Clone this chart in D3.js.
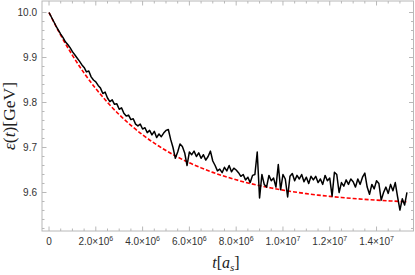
<!DOCTYPE html>
<html><head><meta charset="utf-8">
<script src="https://cdn.jsdelivr.net/npm/d3@7"></script>
<style>body{margin:0;background:#fff}svg{display:block}</style>
</head><body>
<script>
// time step of samples (in units of 1e6 a_s)
const tStep = 0.1;
// black (simulated) energy values, t = 0, 0.1, ..., 15.3 (x1e6)
const energySim = [
10.000,9.990,9.980,9.970,9.961,9.952,9.944,9.935,9.929,9.922,
9.913,9.906,9.899,9.892,9.884,9.878,9.868,9.870,9.857,9.850,
9.846,9.838,9.832,9.820,9.823,9.810,9.802,9.806,9.796,9.797,
9.785,9.788,9.776,9.770,9.772,9.762,9.764,9.752,9.748,9.752,
9.741,9.744,9.733,9.738,9.728,9.736,9.722,9.730,9.724,9.732,
9.738,9.740,9.718,9.700,9.676,9.690,9.708,9.702,9.688,9.660,
9.690,9.684,9.692,9.680,9.688,9.676,9.684,9.672,9.680,9.692,
9.670,9.660,9.648,9.652,9.644,9.656,9.648,9.660,9.646,9.654,
9.650,9.644,9.636,9.640,9.628,9.634,9.622,9.638,9.640,9.690,
9.588,9.640,9.618,9.612,9.638,9.626,9.632,9.612,9.662,9.606,
9.640,9.630,9.590,9.636,9.642,9.626,9.638,9.630,9.640,9.624,
9.634,9.620,9.636,9.628,9.636,9.622,9.630,9.618,9.638,9.626,
9.632,9.592,9.645,9.640,9.600,9.622,9.614,9.628,9.618,9.630,
9.624,9.612,9.630,9.618,9.634,9.643,9.612,9.596,9.618,9.608,
9.626,9.620,9.583,9.600,9.612,9.598,9.618,9.604,9.622,9.590,
9.561,9.586,9.572,9.600
];
// red dashed (fit) curve
const fitT = [0,0.5,1,1.5,2,2.5,3,3.5,4,4.5,5,5.5,6,6.5,7,7.5,8,8.5,9,9.5,10,10.5,11,11.5,12,12.5,13,13.5,14,14.5,15,15.3];
const fitE = [10.000,9.9495,9.9049,9.8655,9.8308,9.8002,9.7731,9.7493,9.7282,9.7096,9.6932,9.6787,9.6659,9.6547,9.6447,9.6360,9.6282,9.6213,9.6153,9.6100,9.6053,9.6011,9.5975,9.5942,9.5914,9.5889,9.5867,9.5847,9.5830,9.5815,9.5801,9.5794];
// ticks
const xMajor = [0,2e6,4e6,6e6,8e6,1e7,1.2e7,1.4e7];
const xMajorLabels = [["0",""],["2.0×10","6"],["4.0×10","6"],["6.0×10","6"],["8.0×10","6"],["1.0×10","7"],["1.2×10","7"],["1.4×10","7"]];
const yMajor = [9.6,9.7,9.8,9.9,10.0];
const yMajorLabels = ["9.6","9.7","9.8","9.9","10.0"];

const W = 415, H = 275;
const L = 42, R = 413.5, T = 1, B = 231;
const svg = d3.select("body").append("svg").attr("width", W).attr("height", H);

const x = d3.scaleLinear().domain([-0.3e6, 15.58e6]).range([L, R]);
const y = d3.scaleLinear().domain([9.5144, 10.0256]).range([B, T]);

const frameCol = "#b8b8b8";
svg.append("rect").attr("x", L).attr("y", T).attr("width", R - L).attr("height", B - T)
  .attr("fill", "none").attr("stroke", frameCol).attr("stroke-width", 1);

const xMinor = d3.range(0, 15.5e6, 5e5).filter(v => !xMajor.includes(v));
const yMinor = d3.range(9.52, 10.02, 0.02).map(v => +v.toFixed(2)).filter(v => !yMajor.some(m => Math.abs(m - v) < 1e-6));
const tk = svg.append("g").attr("stroke", frameCol).attr("stroke-width", 1);
function xt(v, len) {
  tk.append("line").attr("x1", x(v)).attr("x2", x(v)).attr("y1", B).attr("y2", B - len);
  tk.append("line").attr("x1", x(v)).attr("x2", x(v)).attr("y1", T).attr("y2", T + len);
}
function yt(v, len) {
  tk.append("line").attr("y1", y(v)).attr("y2", y(v)).attr("x1", L).attr("x2", L + len);
  tk.append("line").attr("y1", y(v)).attr("y2", y(v)).attr("x1", R).attr("x2", R - len);
}
xMajor.forEach(v => xt(v, 4.5));
xMinor.forEach(v => xt(v, 2.5));
yMajor.forEach(v => yt(v, 4.5));
yMinor.forEach(v => yt(v, 2.5));

const lblFont = "Liberation Sans, Arial, sans-serif";
xMajor.forEach((v, i) => {
  const t = svg.append("text").attr("x", x(v)).attr("y", B + 14).attr("text-anchor", "middle")
    .attr("font-family", lblFont).attr("font-size", 10).attr("fill", "#333");
  t.append("tspan").text(xMajorLabels[i][0]);
  if (xMajorLabels[i][1]) t.append("tspan").attr("dy", -4).attr("font-size", 7).text(xMajorLabels[i][1]);
});
yMajor.forEach((v, i) => {
  svg.append("text").attr("x", L - 5).attr("y", y(v) + 3.5).attr("text-anchor", "end")
    .attr("font-family", lblFont).attr("font-size", 10).attr("fill", "#333").text(yMajorLabels[i]);
});

const fitData = fitT.map((t, i) => [t * 1e6, fitE[i]]);
const simData = energySim.map((e, i) => [i * tStep * 1e6, e]);
svg.append("path").datum(fitData).attr("d", d3.line().x(d => x(d[0])).y(d => y(d[1])).curve(d3.curveMonotoneX))
  .attr("fill", "none").attr("stroke", "#f00").attr("stroke-width", 1.6).attr("stroke-dasharray", "4,2");
svg.append("path").datum(simData).attr("d", d3.line().x(d => x(d[0])).y(d => y(d[1])))
  .attr("fill", "none").attr("stroke", "#000").attr("stroke-width", 1.5).attr("stroke-linejoin", "round");

const serif = "Liberation Serif, Times New Roman, serif";
const xt2 = svg.append("text").attr("x", 226).attr("y", 268).attr("text-anchor", "middle")
  .attr("font-family", serif).attr("font-size", 16).attr("fill", "#222");
xt2.append("tspan").attr("font-style", "italic").text("t");
xt2.append("tspan").text("[");
xt2.append("tspan").attr("font-style", "italic").text("a");
xt2.append("tspan").attr("font-style", "italic").attr("font-size", 11).attr("dy", 3).text("s");
xt2.append("tspan").attr("dy", -3).text("]");

const yt2 = svg.append("text").attr("transform", `translate(15,${(T + B) / 2}) rotate(-90)`)
  .attr("text-anchor", "middle").attr("font-family", serif).attr("font-size", 17.5).attr("fill", "#222");
yt2.append("tspan").attr("font-style", "italic").text("ε");
yt2.append("tspan").text("(");
yt2.append("tspan").attr("font-style", "italic").text("t");
yt2.append("tspan").text(")[GeV]");
</script>
</body></html>
